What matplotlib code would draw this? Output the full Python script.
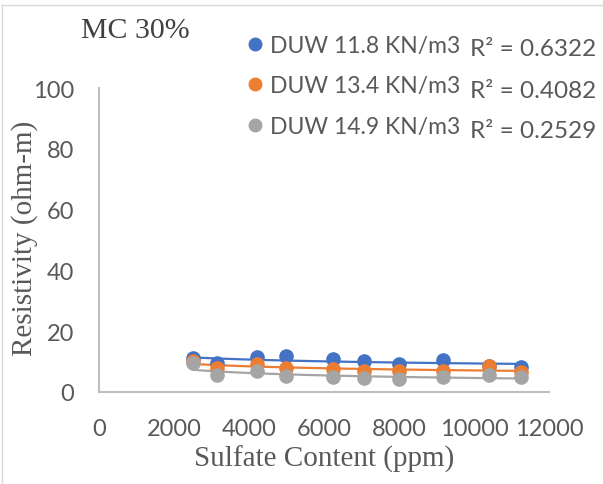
import numpy as np
import matplotlib
matplotlib.use("Agg")
import matplotlib.pyplot as plt
from matplotlib.lines import Line2D

# Data
sulfate = [2500, 3150, 4200, 4980, 6250, 7070, 8000, 9160, 10400, 11250]
duw_11_8 = [11.1, 9.4, 11.4, 11.9, 10.9, 10.1, 9.2, 10.6, 8.6, 8.3]
duw_13_4 = [10.3, 7.8, 9.2, 7.8, 7.6, 7.0, 6.8, 7.0, 8.7, 6.7]
duw_14_9 = [9.4, 5.7, 6.8, 5.2, 4.8, 4.5, 4.3, 4.8, 5.6, 5.0]
series_names = ["DUW 11.8 KN/m3", "DUW 13.4 KN/m3", "DUW 14.9 KN/m3"]
r2_labels = ["R² = 0.6322", "R² = 0.4082", "R² = 0.2529"]
colors = ["#4472C4", "#ED7D31", "#A5A5A5"]
x_ticks = [0, 2000, 4000, 6000, 8000, 10000, 12000]
y_ticks = [0, 20, 40, 60, 80, 100]

W, H = 603, 485
fig = plt.figure(figsize=(W / 100, H / 100), dpi=100)
ax = fig.add_axes([99 / W, 1 - 393 / H, 450 / W, (393 - 89) / H])

text_col = "#595959"
sans = ["Lato", "DejaVu Sans"]
serif = ["Liberation Serif", "DejaVu Serif"]

x = np.array(sulfate, dtype=float)
xs = np.linspace(x.min(), x.max(), 100)
handles = []
for ys, c, name in zip([duw_11_8, duw_13_4, duw_14_9], colors, series_names):
    y = np.array(ys, dtype=float)
    b, a = np.polyfit(np.log(x), np.log(y), 1)
    ax.plot(xs, np.exp(a) * xs ** b, color=c, lw=1.6, zorder=2)
    ax.plot(x, y, "o", color=c, ms=9.5, zorder=3)
    handles.append(Line2D([], [], marker="o", ls="none", color=c, ms=9))

ax.set_xlim(0, 12000)
ax.set_ylim(0, 100)
ax.set_xticks(x_ticks)
ax.set_yticks(y_ticks)
ax.tick_params(length=0, labelsize=17, colors=text_col)
ax.tick_params(axis="x", pad=19)
ax.tick_params(axis="y", pad=18)
for lab in ax.get_xticklabels() + ax.get_yticklabels():
    lab.set_family(sans)
for s in ["top", "right"]:
    ax.spines[s].set_visible(False)
for s in ["left", "bottom"]:
    ax.spines[s].set_color("#BFBFBF")
    ax.spines[s].set_linewidth(1.5)

ax.set_xlabel("Sulfate Content (ppm)", family=serif, fontsize=21, color=text_col, labelpad=4)
fig.text(25 / W, 1 - 238 / H, "Resistivity (ohm-m)", family=serif, fontsize=21,
         color=text_col, rotation=90, ha="center", va="center")

fig.text(135 / W, 1 - 31 / H, "MC 30%", family=serif, fontsize=21.5, color="#404040",
         ha="center", va="center")

leg = fig.legend(handles, series_names, loc="upper left",
                 bbox_to_anchor=(241 / W, 1 - 36 / H), frameon=False,
                 prop={"family": sans, "size": 16.5}, labelcolor=text_col,
                 handletextpad=0.05, handlelength=1.2, labelspacing=0.85,
                 borderpad=0, borderaxespad=0)

for i, t in enumerate(r2_labels):
    fig.text(470 / W, 1 - (50 + 41 * i) / H, t, family=sans, fontsize=17.5,
             color=text_col, ha="left", va="center")

# Outer frame (top and left edges visible)
fig.add_artist(Line2D([2 / W, 2 / W], [0, 1 - 6 / H], color="#D9D9D9", lw=1, transform=fig.transFigure))
fig.add_artist(Line2D([2 / W, 1], [1 - 6 / H, 1 - 6 / H], color="#D9D9D9", lw=1, transform=fig.transFigure))

fig.savefig("out.png", dpi=100)
